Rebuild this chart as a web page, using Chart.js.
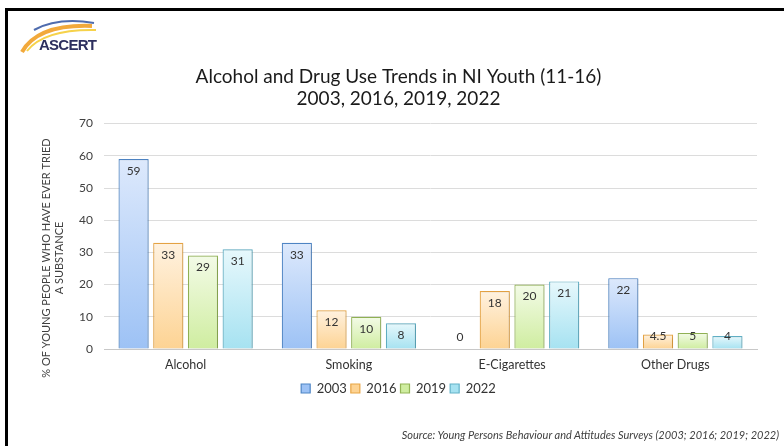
<!DOCTYPE html>
<html>
<head>
<meta charset="utf-8">
<script src="https://cdn.jsdelivr.net/npm/chart.js@4.4.1/dist/chart.umd.min.js"></script>
<style>
  body { margin: 0; background: #fff; width: 784px; height: 446px; overflow: hidden; position: relative; font-family: Lato, sans-serif; }
  #frame { position: absolute; left: 5px; top: 8px; width: 800px; height: 460px; border-left: 3px solid #000; border-top: 3px solid #000; }
  #wrap { position: absolute; left: 0; top: 0; width: 784px; height: 446px; }
  #logo { position: absolute; left: 18px; top: 18px; }
  #source { position: absolute; right: 5px; top: 428px; font-style: italic; font-size: 11px; color: #404040; }
</style>
</head>
<body>
<div id="frame"></div>
<div id="wrap"><canvas id="chart" width="784" height="446"></canvas></div>
<svg id="logo" width="90" height="36" viewBox="0 0 90 36">
  <path d="M4,34 Q20,6 74,8" fill="none" stroke="#f2a93b" stroke-width="4"/>
  <path d="M9,33 Q26,11 78,12" fill="none" stroke="#f6d24a" stroke-width="2"/>
  <path d="M16,12 Q40,-1 76,5" fill="none" stroke="#4f6cae" stroke-width="2"/>
  <text x="21" y="32" font-family="Liberation Sans, Arial" font-weight="bold" font-size="15" fill="#2d2f5e" textLength="58">ASCERT</text>
</svg>
<div id="source">Source: Young Persons Behaviour and Attitudes Surveys (2003; 2016; 2019; 2022)</div>
<script>
// chart data
var categories = ['Alcohol', 'Smoking', 'E-Cigarettes', 'Other Drugs'];
var years = ['2003', '2016', '2019', '2022'];
var v2003 = [59, 33, 0, 22];
var v2016 = [33, 12, 18, 4.5];
var v2019 = [29, 10, 20, 5];
var v2022 = [31, 8, 21, 4];
var yTicks = [0, 10, 20, 30, 40, 50, 60, 70];
var yTitle = ['% OF YOUNG PEOPLE WHO HAVE EVER TRIED', 'A SUBSTANCE'];

Chart.defaults.font.family = 'Lato, sans-serif';
Chart.defaults.color = '#404040';

// per-bar vertical gradient, light at top
function grad(top, bottom, solid) {
	return function(ctx) {
		if (ctx.type !== 'data') return solid;
		var chart = ctx.chart, y = chart.scales.y;
		if (!chart.chartArea || !y || !ctx.parsed) return solid;
		var yTop = y.getPixelForValue(ctx.parsed.y);
		var yBase = y.getPixelForValue(0);
		if (!isFinite(yTop) || yBase - yTop < 1) return solid;
		var g = chart.ctx.createLinearGradient(0, yTop, 0, yBase);
		g.addColorStop(0, top);
		g.addColorStop(1, bottom);
		return g;
	};
}

var series = [v2003, v2016, v2019, v2022];
var fills = [
	['#dde9fc', '#9dc2f5', '#b6d1f8', '#4f86c6'],
	['#fff2e0', '#fdd393', '#fde0b4', '#e8a544'],
	['#f3fbe7', '#cfeda0', '#dff3c0', '#93b556'],
	['#e7f8fc', '#a6e2f1', '#c8eef7', '#62b2c8']
];
var datasets = [];
for (var i = 0; i < series.length; i++) {
	datasets.push({
		label: years[i],
		data: series[i],
		backgroundColor: grad(fills[i][0], fills[i][1], fills[i][2]),
		borderColor: fills[i][3],
		borderWidth: 1.2,
		borderSkipped: 'start',
		categoryPercentage: 0.85,
		barPercentage: 0.87
	});
}

var shadowPlugin = {
	id: 'shadow',
	beforeDatasetsDraw: function(chart) {
		var c = chart.ctx;
		c.save();
		c.shadowColor = 'rgba(0,0,0,0.18)';
		c.shadowBlur = 3;
		c.shadowOffsetX = 1;
		c.shadowOffsetY = 1;
	},
	afterDatasetsDraw: function(chart) {
		chart.ctx.restore();
	}
};

var labelPlugin = {
	id: 'barLabels',
	afterDatasetsDraw: function(chart) {
		var c = chart.ctx;
		c.save();
		c.font = '12px Lato, sans-serif';
		c.fillStyle = '#333';
		c.textAlign = 'center';
		c.textBaseline = 'middle';
		chart.data.datasets.forEach(function(ds, di) {
			chart.getDatasetMeta(di).data.forEach(function(bar, j) {
				var y = Math.min(bar.y + 12, bar.base - 12);
				c.fillText(String(ds.data[j]), bar.x, y);
			});
		});
		c.restore();
	}
};

var yTitlePlugin = {
	id: 'yTitle',
	afterDraw: function(chart) {
		var c = chart.ctx;
		c.save();
		c.font = '11px Lato, sans-serif';
		c.fillStyle = '#404040';
		c.textAlign = 'center';
		c.textBaseline = 'middle';
		c.translate(52, 258);
		c.rotate(-Math.PI / 2);
		c.fillText(yTitle[0], 0, -6);
		c.fillText(yTitle[1], 0, 7);
		c.restore();
	}
};

new Chart(document.getElementById('chart'), {
	type: 'bar',
	data: { labels: categories, datasets: datasets },
	plugins: [shadowPlugin, labelPlugin, yTitlePlugin],
	options: {
		responsive: false,
		animation: false,
		layout: { padding: { top: 65, left: 40, right: 27, bottom: 41 } },
		plugins: {
			title: {
				display: true,
				text: ['Alcohol and Drug Use Trends in NI Youth (11-16)', '2003, 2016, 2019, 2022'],
				font: { size: 19, weight: 'normal' },
				color: '#1a1a1a',
				lineHeight: 1.15,
				padding: { top: 0, bottom: 13 }
			},
			legend: {
				position: 'bottom',
				labels: { boxWidth: 9, boxHeight: 9, padding: 4, font: { size: 13 }, color: '#333' }
			},
			tooltip: { enabled: false }
		},
		scales: {
			x: {
				afterFit: function(scale) { scale.height += 6; },
				grid: { display: false },
				border: { color: '#c8c8c8' },
				ticks: { font: { size: 12.5 }, color: '#333', padding: 0 }
			},
			y: {
				min: yTicks[0],
				max: yTicks[yTicks.length - 1],
				afterFit: function(scale) { scale.width = 64; },
				afterBuildTicks: function(scale) { scale.ticks = yTicks.map(function(v) { return { value: v }; }); },
				grid: { color: '#dcdcdc', drawTicks: false },
				border: { display: false },
				ticks: { font: { size: 12 }, color: '#404040', padding: 11 }
			}
		}
	}
});
</script>
</body>
</html>
